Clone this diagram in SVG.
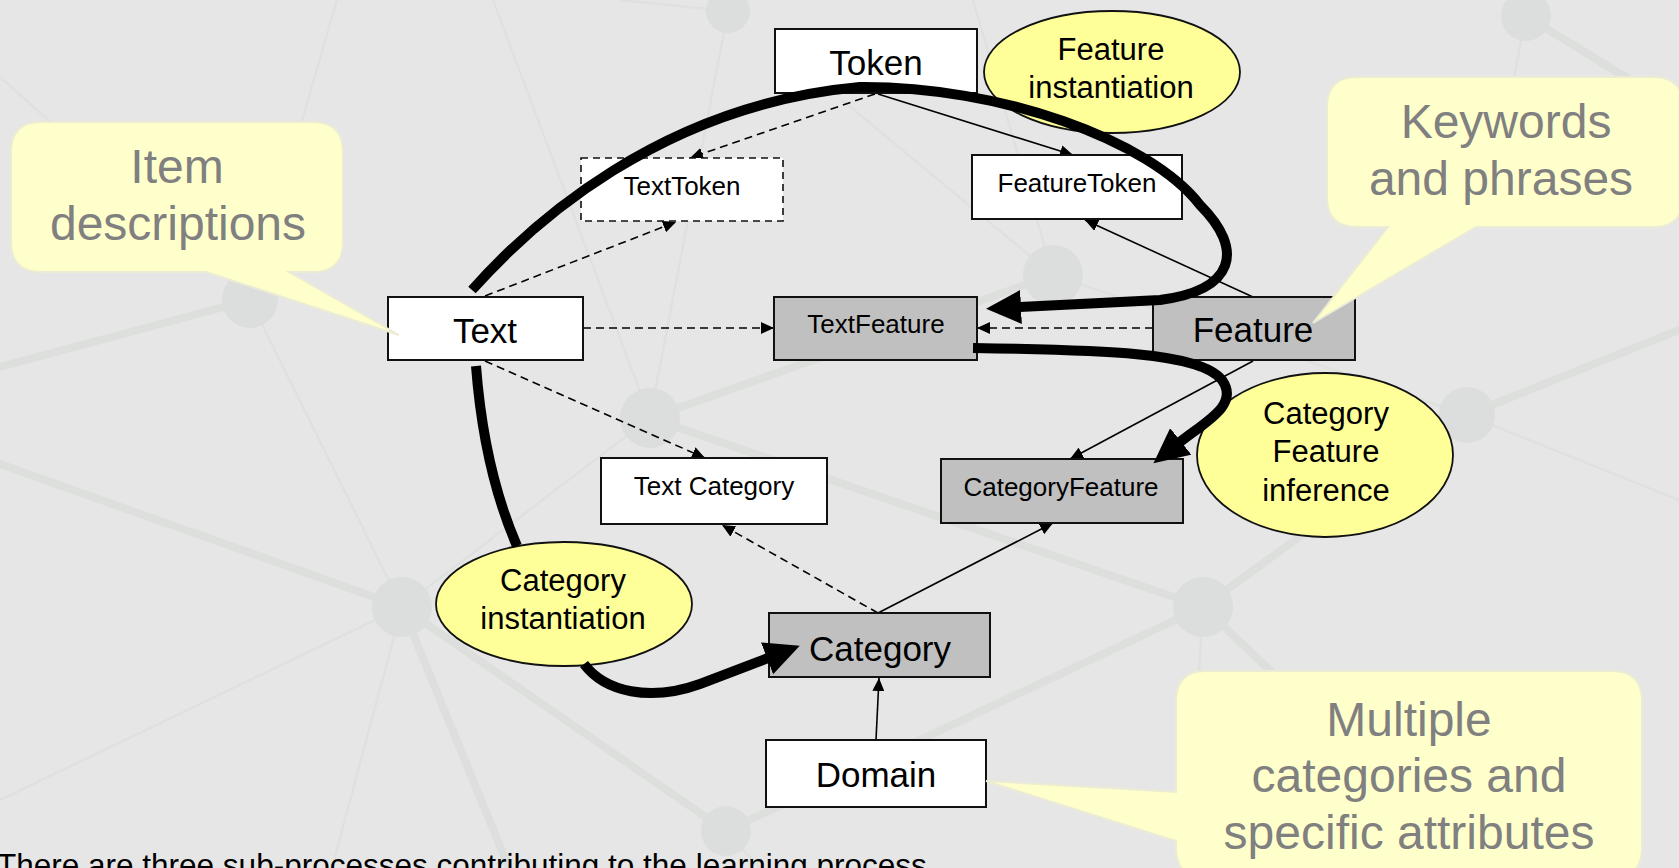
<svg xmlns="http://www.w3.org/2000/svg" width="1679" height="868" viewBox="0 0 1679 868">
<style>
.bgband{stroke:#dddfdd;stroke-width:8;fill:none;stroke-linecap:round}
.bgline{stroke:#dfe1df;stroke-width:2.5;fill:none}
.bgnode{fill:#dbdedc}
.box{fill:#ffffff;stroke:#111;stroke-width:2}
.gbox{fill:#c0c0c0;stroke:#111;stroke-width:2}
.dbox{fill:#ffffff;stroke:#111;stroke-width:1.6;stroke-dasharray:7 5}
.big{font-family:"Liberation Sans",Arial,sans-serif;font-size:35px;fill:#000;text-anchor:middle}
.small{font-family:"Liberation Sans",Arial,sans-serif;font-size:26px;fill:#000;text-anchor:middle}
.proc{fill:#ffff99;stroke:#111;stroke-width:1.8}
.ptxt{font-family:"Liberation Sans",Arial,sans-serif;font-size:31px;fill:#000;text-anchor:middle}
.call{fill:#ffffcc;stroke:#ececd4;stroke-width:2}
.ctxt{font-family:"Liberation Sans",Arial,sans-serif;font-size:48px;fill:#808080;text-anchor:middle}
.solid{stroke:#000;stroke-width:1.6;fill:none}
.dash{stroke:#000;stroke-width:1.6;fill:none;stroke-dasharray:8 5}
.thick{stroke:#000;stroke-width:10;fill:none}
</style>
<defs>
<marker id="ah" markerUnits="userSpaceOnUse" markerWidth="14" markerHeight="12" refX="13" refY="6" orient="auto"><path d="M0,0 L13,6 L0,12 z" fill="#000"/></marker>
<marker id="big" markerUnits="userSpaceOnUse" markerWidth="36" markerHeight="34" refX="1" refY="17" orient="auto"><path d="M0,0 L35,17 L0,34 z" fill="#000"/></marker>
</defs>
<rect width="1679" height="868" fill="#e6e6e6"/>
<g id="background">
<line class="bgband" x1="0" y1="367" x2="250" y2="300"/>
<line class="bgline" x1="0" y1="77" x2="250" y2="300"/>
<line class="bgline" x1="337" y1="0" x2="250" y2="300"/>
<line class="bgline" x1="250" y1="300" x2="402" y2="607"/>
<line class="bgline" x1="493" y1="0" x2="650" y2="418"/>
<line class="bgline" x1="728" y1="11" x2="650" y2="418"/>
<line class="bgband" x1="650" y1="418" x2="1053" y2="275"/>
<line class="bgline" x1="650" y1="418" x2="402" y2="607"/>
<line class="bgband" x1="650" y1="418" x2="1203" y2="607"/>
<line class="bgband" x1="0" y1="464" x2="402" y2="607"/>
<line class="bgline" x1="0" y1="800" x2="402" y2="607"/>
<line class="bgline" x1="332" y1="868" x2="402" y2="607"/>
<line class="bgband" x1="509" y1="868" x2="402" y2="607"/>
<line class="bgband" x1="402" y1="607" x2="726" y2="831"/>
<line class="bgband" x1="1203" y1="607" x2="1467" y2="415"/>
<line class="bgband" x1="1203" y1="607" x2="726" y2="831"/>
<line class="bgline" x1="1203" y1="607" x2="1187" y2="868"/>
<line class="bgband" x1="1203" y1="607" x2="1480" y2="868"/>
<line class="bgband" x1="1467" y1="415" x2="1679" y2="330"/>
<line class="bgline" x1="1467" y1="415" x2="1679" y2="500"/>
<line class="bgline" x1="1053" y1="275" x2="973" y2="0"/>
<line class="bgline" x1="1053" y1="275" x2="842" y2="100"/>
<line class="bgline" x1="1053" y1="275" x2="1467" y2="415"/>
<line class="bgline" x1="1526" y1="16" x2="1503" y2="133"/>
<line class="bgband" x1="1526" y1="16" x2="1679" y2="110"/>
<line class="bgline" x1="728" y1="11" x2="620" y2="0"/>
<line class="bgline" x1="726" y1="831" x2="760" y2="868"/>
<circle class="bgnode" cx="728" cy="11" r="22"/>
<circle class="bgnode" cx="1526" cy="16" r="25"/>
<circle class="bgnode" cx="250" cy="300" r="28"/>
<circle class="bgnode" cx="1053" cy="275" r="30"/>
<circle class="bgnode" cx="650" cy="418" r="30"/>
<circle class="bgnode" cx="402" cy="607" r="30"/>
<circle class="bgnode" cx="1203" cy="607" r="30"/>
<circle class="bgnode" cx="1467" cy="415" r="28"/>
<circle class="bgnode" cx="726" cy="831" r="25"/>
</g>
<g id="connectors">
<line class="dash" x1="875" y1="94" x2="690" y2="158" marker-end="url(#ah)"/>
<line class="dash" x1="485" y1="296" x2="676" y2="222" marker-end="url(#ah)"/>
<line class="dash" x1="583" y1="328" x2="774" y2="328" marker-end="url(#ah)"/>
<line class="dash" x1="485" y1="361" x2="705" y2="458" marker-end="url(#ah)"/>
<line class="solid" x1="878" y1="94" x2="1073" y2="155" marker-end="url(#ah)"/>
<line class="solid" x1="1253" y1="297" x2="1085" y2="220" marker-end="url(#ah)"/>
<line class="dash" x1="1153" y1="328" x2="977" y2="328" marker-end="url(#ah)"/>
<line class="solid" x1="1253" y1="361" x2="1070" y2="459" marker-end="url(#ah)"/>
<line class="dash" x1="878" y1="613" x2="722" y2="525" marker-end="url(#ah)"/>
<line class="solid" x1="878" y1="613" x2="1053" y2="523" marker-end="url(#ah)"/>
<line class="solid" x1="876" y1="740" x2="879" y2="678" marker-end="url(#ah)"/>
</g>
<g id="node-token"><rect class="box" x="775" y="29" width="202" height="64"/><text class="big" x="876" y="75">Token</text></g>
<g id="node-texttoken"><rect class="dbox" x="581" y="158" width="202" height="63"/><text class="small" x="682" y="195">TextToken</text></g>
<g id="node-featuretoken"><rect class="box" x="972" y="155" width="210" height="64"/><text class="small" x="1077" y="192">FeatureToken</text></g>
<g id="node-text"><rect class="box" x="388" y="297" width="195" height="63"/><text class="big" x="485" y="343">Text</text></g>
<g id="node-textfeature"><rect class="gbox" x="774" y="297" width="203" height="63"/><text class="small" x="876" y="333">TextFeature</text></g>
<g id="node-feature"><rect class="gbox" x="1153" y="297" width="202" height="63"/><text class="big" x="1253" y="342">Feature</text></g>
<g id="node-textcategory"><rect class="box" x="601" y="458" width="226" height="66"/><text class="small" x="714" y="495">Text Category</text></g>
<g id="node-categoryfeature"><rect class="gbox" x="941" y="459" width="242" height="64"/><text class="small" x="1061" y="496">CategoryFeature</text></g>
<g id="node-category"><rect class="gbox" x="769" y="613" width="221" height="64"/><text class="big" x="880" y="661">Category</text></g>
<g id="node-domain"><rect class="box" x="766" y="740" width="220" height="67"/><text class="big" x="876" y="787">Domain</text></g>
<g id="proc-feature-instantiation"><ellipse class="proc" cx="1112" cy="72" rx="128" ry="61"/><text class="ptxt" x="1111" y="60">Feature</text><text class="ptxt" x="1111" y="98">instantiation</text></g>
<g id="proc-category-feature-inference"><ellipse class="proc" cx="1325" cy="455" rx="128" ry="82"/><text class="ptxt" x="1326" y="424">Category</text><text class="ptxt" x="1326" y="462">Feature</text><text class="ptxt" x="1326" y="501">inference</text></g>
<g id="proc-category-instantiation"><ellipse class="proc" cx="564" cy="604" rx="128" ry="62"/><text class="ptxt" x="563" y="591">Category</text><text class="ptxt" x="563" y="629">instantiation</text></g>
<g id="process-arrows">
<path class="thick" d="M472,290 C530,225 660,105 860,87 C1000,86 1150,140 1200,205 C1245,250 1235,290 1160,300 L1020,307" marker-end="url(#big)"/>
<path class="thick" d="M973,348 C1100,350 1200,352 1222,380 C1240,405 1205,422 1180,442" marker-end="url(#big)"/>
<path class="thick" d="M476,366 Q484,470 517,546"/>
<path class="thick" d="M584,664 C605,692 650,702 700,684 L768,658" marker-end="url(#big)"/>
</g>
<g id="callout-item">
<path class="call" d="M41,122 H313 Q343,122 343,152 V242 Q343,272 313,272 H289 L399,335 L206,272 H41 Q11,272 11,242 V152 Q11,122 41,122 Z"/>
<text class="ctxt" x="177" y="183">Item</text><text class="ctxt" x="178" y="240">descriptions</text>
</g>
<g id="callout-keywords">
<path class="call" d="M1357,77 H1653 Q1683,77 1683,107 V197 Q1683,227 1653,227 H1476 L1313,323 L1388,227 H1357 Q1327,227 1327,197 V107 Q1327,77 1357,77 Z"/>
<text class="ctxt" x="1506" y="138">Keywords</text><text class="ctxt" x="1501" y="195">and phrases</text>
</g>
<g id="callout-multiple">
<path class="call" d="M1206,671 H1612 Q1642,671 1642,701 V848 Q1642,878 1612,878 H1206 Q1176,878 1176,848 V841 L986,781 L1176,792 V701 Q1176,671 1206,671 Z"/>
<text class="ctxt" x="1409" y="736">Multiple</text><text class="ctxt" x="1409" y="792">categories and</text><text class="ctxt" x="1409" y="849">specific attributes</text>
</g>
<text x="-3" y="876" font-family="Liberation Sans, Arial, sans-serif" font-size="31.5" fill="#000">There are three sub-processes contributing to the learning process</text>
</svg>
